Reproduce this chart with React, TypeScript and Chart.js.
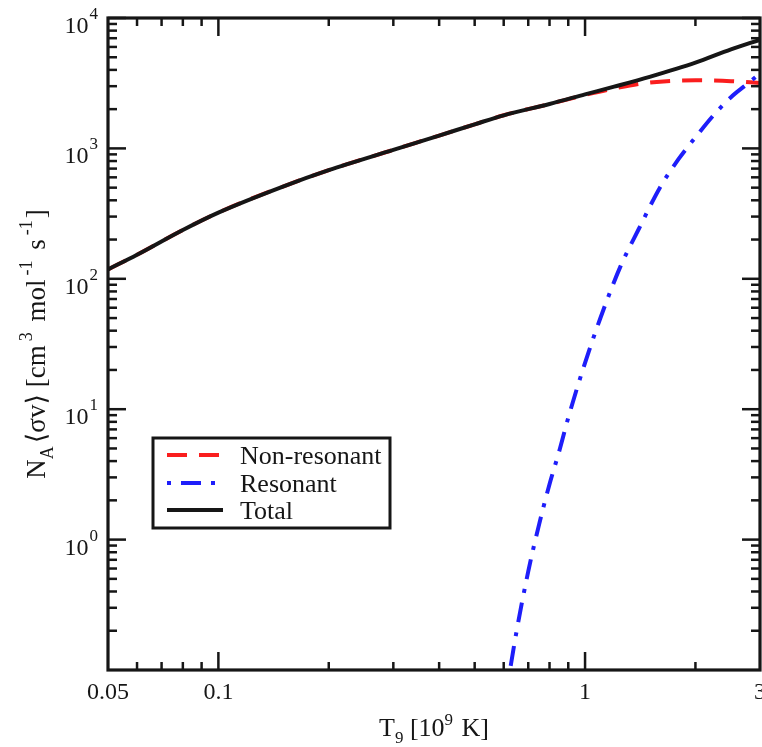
import React, { useEffect, useRef } from 'react';
import { Chart, registerables } from 'chart.js';

Chart.register(...registerables);

// ---- Data ----
const nonResT = [0.05, 0.06, 0.08, 0.1, 0.15, 0.2, 0.3, 0.4, 0.5, 0.6, 0.8, 1.0, 1.2, 1.5, 2.0, 2.5, 3.0];
const nonResV = [118, 153, 237, 322, 510, 681, 975, 1255, 1530, 1794, 2190, 2570, 2880, 3200, 3330, 3280, 3170];

const resT = [0.6, 0.625, 0.65, 0.7, 0.75, 0.8, 0.85, 0.9, 1.0, 1.1, 1.25, 1.4, 1.6, 1.8, 2.0, 2.25, 2.5, 2.75, 3.0];
const resV = [0.05, 0.102, 0.196, 0.571, 1.32, 2.66, 4.75, 8.6, 22.7, 49.6, 125, 240, 500, 830, 1216, 1820, 2470, 3075, 3750];

const totalT = [0.05, 0.06, 0.08, 0.1, 0.15, 0.2, 0.3, 0.4, 0.5, 0.6, 0.8, 1.0, 1.2, 1.5, 2.0, 2.5, 3.0];
const totalV = [118, 153, 237, 322, 510, 681, 975, 1255, 1530, 1794, 2192, 2595, 2975, 3540, 4550, 5750, 6800];

const seriesLabels = ['Non-resonant', 'Resonant', 'Total'];

// ---- Axis ticks ----
const xTickValues = [0.05, 0.1, 1, 3];
const xTickLabels = ['0.05', '0.1', '1', '3'];
const xMajorTicks = [0.1, 1];
const xMinorTicks = [0.06, 0.07, 0.08, 0.09, 0.2, 0.3, 0.4, 0.5, 0.6, 0.7, 0.8, 0.9, 2];
const yTickExponents = [0, 1, 2, 3, 4];
const yMinorMultipliers = [2, 3, 4, 5, 6, 7, 8, 9];
const yMinorDecades = [-1, 0, 1, 2, 3];

const FONT = '"Liberation Serif", "DejaVu Serif", "Times New Roman", serif';
const INK = '#161616';

type Run = { t: string; size: number; dy: number; pre?: number };

function measureRuns(ctx: CanvasRenderingContext2D, runs: Run[]) {
  return runs.map((r) => {
    ctx.font = `${r.size}px ${FONT}`;
    return ctx.measureText(r.t).width + (r.pre || 0);
  });
}

function drawRuns(ctx: CanvasRenderingContext2D, runs: Run[], x: number, y: number, align: 'left' | 'center' | 'right') {
  const widths = measureRuns(ctx, runs);
  const total = widths.reduce((a, b) => a + b, 0);
  let cx = align === 'left' ? x : align === 'center' ? x - total / 2 : x - total;
  ctx.textAlign = 'left';
  ctx.textBaseline = 'alphabetic';
  runs.forEach((r, i) => {
    ctx.font = `${r.size}px ${FONT}`;
    ctx.fillText(r.t, cx + (r.pre || 0), y + r.dy);
    cx += widths[i];
  });
}

const customAxes = {
  id: 'customAxes',
  afterDraw(chart: any) {
    const { ctx, chartArea: a, scales } = chart;
    const xs = scales.x;
    const ys = scales.y;
    ctx.save();
    ctx.strokeStyle = INK;
    ctx.fillStyle = INK;
    ctx.lineCap = 'butt';

    const seg = (x1: number, y1: number, x2: number, y2: number) => {
      ctx.beginPath();
      ctx.moveTo(x1, y1);
      ctx.lineTo(x2, y2);
      ctx.stroke();
    };

    ctx.lineWidth = 2.5;
    xMajorTicks.forEach((v) => {
      const px = xs.getPixelForValue(v);
      seg(px, a.bottom, px, a.bottom - 18);
      seg(px, a.top, px, a.top + 18);
    });
    xMinorTicks.forEach((v) => {
      const px = xs.getPixelForValue(v);
      seg(px, a.bottom, px, a.bottom - 8);
      seg(px, a.top, px, a.top + 8);
    });
    yTickExponents.forEach((e) => {
      const py = ys.getPixelForValue(Math.pow(10, e));
      seg(a.left, py, a.left + 18, py);
      seg(a.right, py, a.right - 18, py);
    });
    yMinorDecades.forEach((d) => {
      yMinorMultipliers.forEach((m) => {
        const py = ys.getPixelForValue(m * Math.pow(10, d));
        seg(a.left, py, a.left + 9, py);
        seg(a.right, py, a.right - 9, py);
      });
    });

    ctx.lineWidth = 3.2;
    ctx.strokeRect(a.left, a.top, a.right - a.left, a.bottom - a.top);

    // x tick labels
    ctx.font = `24px ${FONT}`;
    ctx.textAlign = 'center';
    ctx.textBaseline = 'alphabetic';
    xTickValues.forEach((v, i) => {
      const px = xs.getPixelForValue(v);
      ctx.fillText(xTickLabels[i], px, a.bottom + 29);
    });

    // y tick labels: 10^n
    yTickExponents.forEach((e) => {
      const py = ys.getPixelForValue(Math.pow(10, e));
      drawRuns(
        ctx,
        [
          { t: '10', size: 24, dy: 15 },
          { t: String(e), size: 17, dy: 1, pre: 1 },
        ],
        a.left - 10,
        py,
        'right'
      );
    });

    // x title
    const xc = (a.left + a.right) / 2;
    drawRuns(
      ctx,
      [
        { t: 'T', size: 26, dy: 0 },
        { t: '9', size: 17, dy: 7 },
        { t: ' [10', size: 26, dy: 0 },
        { t: '9', size: 17, dy: -11 },
        { t: ' K]', size: 26, dy: 0, pre: 2 },
      ],
      xc,
      a.bottom + 66,
      'center'
    );

    // y title (rotated)
    const yc = (a.top + a.bottom) / 2;
    ctx.save();
    ctx.translate(45, yc);
    ctx.rotate(-Math.PI / 2);
    drawRuns(
      ctx,
      [
        { t: 'N', size: 27, dy: 0 },
        { t: 'A', size: 18, dy: 8 },
        { t: '\u27E8\u03C3v\u27E9', size: 27, dy: 0, pre: 3 },
        { t: ' [cm', size: 27, dy: 0 },
        { t: '3', size: 18, dy: -13, pre: 4 },
        { t: ' mol', size: 27, dy: 0, pre: 4 },
        { t: '-1', size: 18, dy: -13, pre: 4 },
        { t: ' s', size: 27, dy: 0, pre: 4 },
        { t: '-1', size: 18, dy: -13, pre: 4 },
        { t: ']', size: 27, dy: 0, pre: 2 },
      ],
      0,
      0,
      'center'
    );
    ctx.restore();

    // legend box
    const lx = 153, ly = 438, lw = 237, lh = 90;
    ctx.lineWidth = 3;
    ctx.strokeRect(lx, ly, lw, lh);
    const rows = [17, 45, 72];
    chart.data.datasets.forEach((ds: any, i: number) => {
      const ry = ly + rows[i];
      ctx.save();
      ctx.strokeStyle = ds.borderColor;
      ctx.lineWidth = ds.borderWidth;
      ctx.setLineDash(ds.legendDash || []);
      seg(lx + 14, ry, lx + 70, ry);
      ctx.restore();
      ctx.fillStyle = INK;
      ctx.font = `26px ${FONT}`;
      ctx.textAlign = 'left';
      ctx.textBaseline = 'alphabetic';
      ctx.fillText(ds.label, lx + 87, ry + 9);
    });

    ctx.restore();
  },
};

export default function App() {
  const ref = useRef<HTMLCanvasElement | null>(null);

  useEffect(() => {
    if (!ref.current) return;
    const toXY = (xs: number[], ys: number[]) => xs.map((x, i) => ({ x, y: ys[i] }));
    const chart = new Chart(ref.current, {
      type: 'line',
      data: {
        datasets: [
          {
            label: seriesLabels[0],
            data: toXY(nonResT, nonResV),
            borderColor: '#fa1e1e',
            borderWidth: 4,
            borderDash: [20, 12],
            legendDash: [20, 12],
            pointRadius: 0,
            cubicInterpolationMode: 'monotone',
            order: 2,
          } as any,
          {
            label: seriesLabels[1],
            data: toXY(resT, resV),
            borderColor: '#1e1efa',
            borderWidth: 4,
            borderDash: [20, 10, 4, 10],
            legendDash: [4, 10, 20, 10],
            pointRadius: 0,
            cubicInterpolationMode: 'monotone',
            order: 1,
          } as any,
          {
            label: seriesLabels[2],
            data: toXY(totalT, totalV),
            borderColor: INK,
            borderWidth: 4,
            pointRadius: 0,
            cubicInterpolationMode: 'monotone',
            order: 0,
          } as any,
        ],
      },
      options: {
        animation: false,
        responsive: false,
        maintainAspectRatio: false,
        devicePixelRatio: 1,
        parsing: false as any,
        layout: { padding: { left: 108, right: 2, top: 18, bottom: 77 } },
        scales: {
          x: { type: 'logarithmic', min: 0.05, max: 3, display: false },
          y: { type: 'logarithmic', min: 0.1, max: 10000, display: false },
        },
        plugins: {
          legend: { display: false },
          tooltip: { enabled: false },
        },
      },
      plugins: [customAxes],
    });
    return () => chart.destroy();
  }, []);

  return (
    <div style={{ position: 'fixed', left: 0, top: 0, width: 762, height: 747, background: '#fff' }}>
      <canvas ref={ref} width={762} height={747} style={{ display: 'block' }} />
    </div>
  );
}
